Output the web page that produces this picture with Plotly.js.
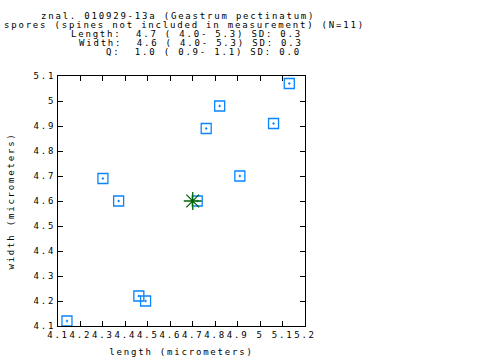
<!DOCTYPE html>
<html>
<head>
<meta charset="utf-8">
<script src="https://cdn.plot.ly/plotly-3.0.1.min.js"></script>
<style>
html,body{margin:0;padding:0;background:#fff;}
#chart{width:480px;height:360px;}
svg text{letter-spacing:1.8px;}
</style>
</head>
<body>
<div id="chart"></div>
<script>
// spore measurements (micrometers)
var sporeLength = [5.13, 4.82, 4.76, 5.06, 4.30, 4.91, 4.37, 4.72, 4.46, 4.49, 4.14];
var sporeWidth  = [5.07, 4.98, 4.89, 4.91, 4.69, 4.70, 4.60, 4.60, 4.22, 4.20, 4.12];
var meanLength = [4.70];
var meanWidth  = [4.60];
var xTicks = [4.1, 4.2, 4.3, 4.4, 4.5, 4.6, 4.7, 4.8, 4.9, 5.0, 5.1, 5.2];
var xTickLabels = ["4.1","4.2","4.3","4.4","4.5","4.6","4.7","4.8","4.9","5","5.1","5.2"];
var yTicks = [4.1, 4.2, 4.3, 4.4, 4.5, 4.6, 4.7, 4.8, 4.9, 5.0, 5.1];
var yTickLabels = ["4.1","4.2","4.3","4.4","4.5","4.6","4.7","4.8","4.9","5","5.1"];
var titleLines = [
  "znal. 010929-13a (Geastrum pectinatum)",
  "spores (spines not included in measurement) (N=11)",
  "Length:  4.7 ( 4.0- 5.3) SD: 0.3",
  "Width:  4.6 ( 4.0- 5.3) SD: 0.3",
  "Q:  1.0 ( 0.9- 1.1) SD: 0.0"
];
var titleStartPx = [40, 3, 70, 78, 105];
var titleYPx = [15.5, 24.8, 34, 43, 52];

var FONT = "DejaVu Sans Mono, Liberation Mono, monospace";
var FS = 9;
var L = 58, R = 305, T = 76, B = 326;
var W = R - L, H = B - T;

var annotations = titleLines.map(function(t, i){
  return {
    text: t.replace(/ /g, "\u00a0"),
    xref: "paper", yref: "paper",
    x: (titleStartPx[i] - L) / W,
    y: (B - titleYPx[i]) / H,
    xanchor: "left", yanchor: "middle",
    showarrow: false, borderpad: 0,
    font: {family: FONT, size: FS, color: "#000"}
  };
});

var traces = [
  {
    x: sporeLength, y: sporeWidth, type: "scatter", mode: "markers",
    marker: {symbol: "square-open-dot", size: 10, color: "#0a84ff", line: {width: 1.3, color: "#0a84ff"}},
    hoverinfo: "skip"
  },
  {
    x: meanLength, y: meanWidth, type: "scatter", mode: "markers",
    marker: {symbol: "asterisk-open", size: 15, color: "#006400", line: {width: 1.3, color: "#006400"}},
    hoverinfo: "skip"
  }
];

var axisCommon = {
  showgrid: false, zeroline: false, showline: true, linecolor: "#000", linewidth: 1,
  mirror: "ticks", ticks: "inside", ticklen: 5, tickcolor: "#000", tickwidth: 1,
  tickmode: "array", tickangle: 0,
  tickfont: {family: FONT, size: FS, color: "#000"}
};

var layout = Object.assign({
  width: 480, height: 360,
  margin: {l: L, r: 480 - R, t: T, b: 360 - B, pad: 0},
  paper_bgcolor: "#fff", plot_bgcolor: "#fff",
  showlegend: false,
  annotations: annotations,
  xaxis: Object.assign({}, axisCommon, {
    range: [4.1, 5.2], tickvals: xTicks, ticktext: xTickLabels,
    title: {text: "length (micrometers)", font: {family: FONT, size: FS, color: "#000"}, standoff: 9}
  }),
  yaxis: Object.assign({}, axisCommon, {
    range: [4.1, 5.1], tickvals: yTicks, ticktext: yTickLabels,
    title: {text: "width (micrometers)", font: {family: FONT, size: FS, color: "#000"}, standoff: 17}
  })
});

Plotly.newPlot("chart", traces, layout, {staticPlot: true, displayModeBar: false});
</script>
</body>
</html>
